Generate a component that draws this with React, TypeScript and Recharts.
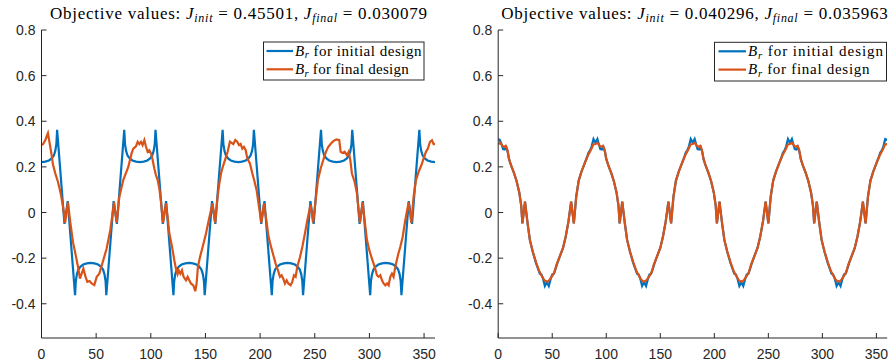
import React from 'react';
import { LineChart, Line, XAxis, YAxis } from 'recharts';

// Br over rotor angle (deg), initial vs final design, two optimisation runs

type Pt = [number, number];

const xTicks = [0, 50, 100, 150, 200, 250, 300, 350];
const yTicks = [-0.4, -0.2, 0, 0.2, 0.4, 0.6, 0.8];
const xDomain: [number, number] = [0, 360];
const yDomain: [number, number] = [-0.55, 0.8];

const leftObjective = { init: '0.45501', final: '0.030079' };
const rightObjective = { init: '0.040296', final: '0.035963' };
const legendLabels = [' for initial design', ' for final design'];

const leftInitial: Pt[] = [
  [0, 0.221], [3.5, 0.223], [6.8, 0.228], [9.3, 0.237], [11.3, 0.25], [12.6, 0.27], [13.6, 0.3], [14.3, 0.362],
  [21, -0.05], [24, 0.05],
  [30.7, -0.362], [31.4, -0.3], [32.4, -0.27], [33.7, -0.25], [35.7, -0.237], [38.2, -0.228], [41.5, -0.223], [45, -0.221],
  [48.5, -0.223], [51.8, -0.228], [54.3, -0.237], [56.3, -0.25], [57.6, -0.27], [58.6, -0.3], [59.3, -0.362],
  [66, 0.05], [69, -0.05],
  [75.7, 0.362], [76.4, 0.3], [77.4, 0.27], [78.7, 0.25], [80.7, 0.237], [83.2, 0.228], [86.5, 0.223], [90, 0.221],
  [93.5, 0.223], [96.8, 0.228], [99.3, 0.237], [101.3, 0.25], [102.6, 0.27], [103.6, 0.3], [104.3, 0.362],
  [111, -0.05], [114, 0.05],
  [120.7, -0.362], [121.4, -0.3], [122.4, -0.27], [123.7, -0.25], [125.7, -0.237], [128.2, -0.228], [131.5, -0.223], [135, -0.221],
  [138.5, -0.223], [141.8, -0.228], [144.3, -0.237], [146.3, -0.25], [147.6, -0.27], [148.6, -0.3], [149.3, -0.362],
  [156, 0.05], [159, -0.05],
  [165.7, 0.362], [166.4, 0.3], [167.4, 0.27], [168.7, 0.25], [170.7, 0.237], [173.2, 0.228], [176.5, 0.223], [180, 0.221],
  [183.5, 0.223], [186.8, 0.228], [189.3, 0.237], [191.3, 0.25], [192.6, 0.27], [193.6, 0.3], [194.3, 0.362],
  [201, -0.05], [204, 0.05],
  [210.7, -0.362], [211.4, -0.3], [212.4, -0.27], [213.7, -0.25], [215.7, -0.237], [218.2, -0.228], [221.5, -0.223], [225, -0.221],
  [228.5, -0.223], [231.8, -0.228], [234.3, -0.237], [236.3, -0.25], [237.6, -0.27], [238.6, -0.3], [239.3, -0.362],
  [246, 0.05], [249, -0.05],
  [255.7, 0.362], [256.4, 0.3], [257.4, 0.27], [258.7, 0.25], [260.7, 0.237], [263.2, 0.228], [266.5, 0.223], [270, 0.221],
  [273.5, 0.223], [276.8, 0.228], [279.3, 0.237], [281.3, 0.25], [282.6, 0.27], [283.6, 0.3], [284.3, 0.362],
  [291, -0.05], [294, 0.05],
  [300.7, -0.362], [301.4, -0.3], [302.4, -0.27], [303.7, -0.25], [305.7, -0.237], [308.2, -0.228], [311.5, -0.223], [315, -0.221],
  [318.5, -0.223], [321.8, -0.228], [324.3, -0.237], [326.3, -0.25], [327.6, -0.27], [328.6, -0.3], [329.3, -0.362],
  [336, 0.05], [339, -0.05],
  [345.7, 0.362], [346.4, 0.3], [347.4, 0.27], [348.7, 0.25], [350.7, 0.237], [353.2, 0.228], [356.5, 0.223], [360, 0.221],
];

const leftFinal: Pt[] = [
  [0, 0.295], [1.5, 0.3], [3.5, 0.318], [5.9, 0.348], [7.6, 0.3], [9, 0.26], [10.5, 0.21], [12.7, 0.17], [15.1, 0.134],
  [17.5, 0.085], [19.7, 0.025], [21.6, -0.045], [24.2, 0.045], [26, -0.03], [28.8, -0.13], [31, -0.18], [33.4, -0.238],
  [35.2, -0.29], [38.3, -0.246], [40.2, -0.28], [41.9, -0.304], [44, -0.3], [45.9, -0.311], [48.3, -0.318], [50.5, -0.282],
  [52.9, -0.268], [56.5, -0.209], [59.6, -0.158], [63, -0.075], [66.4, 0.045], [68.8, -0.045], [71.2, 0.068], [74.8, 0.142],
  [79.4, 0.2], [82.4, 0.259], [84, 0.28], [86.4, 0.29], [88, 0.31], [89.5, 0.3], [91, 0.31], [92.5, 0.295], [94.1, 0.317],
  [95.6, 0.288], [97.1, 0.266], [98.6, 0.273], [100.2, 0.259], [101.7, 0.23], [103.2, 0.193], [104.7, 0.164], [106.3, 0.142],
  [107.8, 0.105], [109.3, 0.047], [111.2, -0.045], [113.9, 0.04], [115.7, -0.034], [116.9, -0.09], [119.4, -0.15],
  [121.5, -0.209], [123, -0.246], [124.5, -0.27], [125.5, -0.253], [127, -0.268], [128.5, -0.253], [130, -0.282],
  [132.2, -0.297], [133.7, -0.282], [135.2, -0.297], [136.7, -0.311], [138.9, -0.319], [140.7, -0.345], [141.9, -0.311],
  [143.1, -0.238], [145, -0.195], [147.4, -0.151], [150.5, -0.092], [153, -0.034], [156.4, 0.04], [158.9, -0.045],
  [161.1, 0.069], [162.7, 0.127], [164.2, 0.171], [166.3, 0.207], [168.8, 0.244], [170.3, 0.266], [172.4, 0.311],
  [175.5, 0.3], [177.3, 0.318], [179.1, 0.31], [180.7, 0.295], [182.2, 0.3], [183.7, 0.28], [185.2, 0.288], [186.8, 0.273],
  [188.3, 0.237], [190.7, 0.215], [192.9, 0.171], [195, 0.134], [196.8, 0.098], [199, 0.025], [201.1, -0.045],
  [203.5, 0.04], [205.7, -0.034], [207.5, -0.1], [209.6, -0.143], [212.1, -0.187], [214.2, -0.224], [216.3, -0.253],
  [218.2, -0.282], [219.7, -0.275], [221.2, -0.29], [222.7, -0.311], [224.3, -0.297], [225.8, -0.311], [227.9, -0.319],
  [229.4, -0.304], [231, -0.275], [232.5, -0.282], [234, -0.238], [236.5, -0.195], [238.6, -0.151], [240.7, -0.1],
  [243.2, -0.034], [246.2, 0.035], [248.5, -0.045], [250.8, 0.054], [252.9, 0.142], [255.4, 0.193], [257.8, 0.23],
  [260.2, 0.266], [262.4, 0.288], [264.5, 0.3], [266.3, 0.31], [268.2, 0.317], [270.3, 0.32], [272.4, 0.317],
  [273.7, 0.266], [275.5, 0.261], [277.3, 0.266], [279.5, 0.251], [281, 0.266], [282.5, 0.23], [284, 0.171],
  [286.5, 0.134], [288.6, 0.083], [290.1, 0.01], [291.4, -0.045], [293.8, 0.045], [295.6, -0.034], [297.8, -0.122],
  [299.9, -0.165], [302.3, -0.202], [304.8, -0.238], [306.9, -0.275], [308.4, -0.282], [310, -0.275], [311.5, -0.297],
  [313, -0.311], [314.5, -0.319], [316.1, -0.311], [317.6, -0.319], [319.1, -0.282], [320.6, -0.268], [322.1, -0.282],
  [323.7, -0.238], [326.1, -0.187], [328.2, -0.151], [330.4, -0.107], [332.8, -0.034], [335.9, 0.045], [338.3, -0.045],
  [340.4, 0.069], [342.6, 0.142], [345, 0.178], [347.5, 0.207], [349.6, 0.237], [351.7, 0.266], [353.5, 0.28],
  [355.4, 0.31], [357.2, 0.317], [358.7, 0.3], [360, 0.3],
];

const rightInitial: Pt[] = [
  [0, 0.322], [1.5, 0.318], [3.2, 0.298], [4.5, 0.278], [6, 0.276], [7.5, 0.286], [9, 0.262], [10, 0.235], [12, 0.205],
  [14.5, 0.175], [17, 0.138], [19.5, 0.088], [21.3, 0.03], [22.4, -0.048], [24.8, 0.048], [27.2, -0.048], [29.3, -0.12],
  [32, -0.172], [35, -0.222], [37, -0.248], [38.5, -0.268], [40, -0.272], [41.5, -0.29], [43.2, -0.322], [45, -0.306],
  [46.8, -0.322], [48.5, -0.292], [50, -0.272], [51.5, -0.268], [53, -0.248], [55, -0.218], [57, -0.192], [60, -0.155],
  [62.5, -0.105], [65, -0.04], [67.5, 0.048], [70, -0.048], [72.2, 0.07], [74.5, 0.14], [77, 0.178], [80, 0.215],
  [82, 0.24], [83.5, 0.262], [85, 0.272], [86.5, 0.29], [88.2, 0.322],
  [90, 0.306], [91.8, 0.322], [93.2, 0.298], [94.5, 0.278], [96, 0.276], [97.5, 0.286], [99, 0.262], [100, 0.235],
  [102, 0.205], [104.5, 0.175], [107, 0.138], [109.5, 0.088], [111.3, 0.03], [112.4, -0.048], [114.8, 0.048],
  [117.2, -0.048], [119.3, -0.12], [122, -0.172], [125, -0.222], [127, -0.248], [128.5, -0.268], [130, -0.272],
  [131.5, -0.29], [133.2, -0.322], [135, -0.306], [136.8, -0.322], [138.5, -0.292], [140, -0.272], [141.5, -0.268],
  [143, -0.248], [145, -0.218], [147, -0.192], [150, -0.155], [152.5, -0.105], [155, -0.04], [157.5, 0.048],
  [160, -0.048], [162.2, 0.07], [164.5, 0.14], [167, 0.178], [170, 0.215], [172, 0.24], [173.5, 0.262], [175, 0.272],
  [176.5, 0.29], [178.2, 0.322],
  [180, 0.306], [181.8, 0.322], [183.2, 0.298], [184.5, 0.278], [186, 0.276], [187.5, 0.286], [189, 0.262], [190, 0.235],
  [192, 0.205], [194.5, 0.175], [197, 0.138], [199.5, 0.088], [201.3, 0.03], [202.4, -0.048], [204.8, 0.048],
  [207.2, -0.048], [209.3, -0.12], [212, -0.172], [215, -0.222], [217, -0.248], [218.5, -0.268], [220, -0.272],
  [221.5, -0.29], [223.2, -0.322], [225, -0.306], [226.8, -0.322], [228.5, -0.292], [230, -0.272], [231.5, -0.268],
  [233, -0.248], [235, -0.218], [237, -0.192], [240, -0.155], [242.5, -0.105], [245, -0.04], [247.5, 0.048],
  [250, -0.048], [252.2, 0.07], [254.5, 0.14], [257, 0.178], [260, 0.215], [262, 0.24], [263.5, 0.262], [265, 0.272],
  [266.5, 0.29], [268.2, 0.322],
  [270, 0.306], [271.8, 0.322], [273.2, 0.298], [274.5, 0.278], [276, 0.276], [277.5, 0.286], [279, 0.262], [280, 0.235],
  [282, 0.205], [284.5, 0.175], [287, 0.138], [289.5, 0.088], [291.3, 0.03], [292.4, -0.048], [294.8, 0.048],
  [297.2, -0.048], [299.3, -0.12], [302, -0.172], [305, -0.222], [307, -0.248], [308.5, -0.268], [310, -0.272],
  [311.5, -0.29], [313.2, -0.322], [315, -0.306], [316.8, -0.322], [318.5, -0.292], [320, -0.272], [321.5, -0.268],
  [323, -0.248], [325, -0.218], [327, -0.192], [330, -0.155], [332.5, -0.105], [335, -0.04], [337.5, 0.048],
  [340, -0.048], [342.2, 0.07], [344.5, 0.14], [347, 0.178], [350, 0.215], [352, 0.24], [353.5, 0.262], [355, 0.272],
  [356.5, 0.29], [358.2, 0.322], [360, 0.318],
];

const rightFinal: Pt[] = [
  [0, 0.3], [2, 0.305], [4, 0.292], [5.5, 0.288], [7, 0.292], [8.5, 0.275], [10, 0.235], [12, 0.205], [14.5, 0.175],
  [17, 0.138], [19.5, 0.088], [21.3, 0.03], [22.4, -0.048], [24.8, 0.048], [27.2, -0.048], [29.3, -0.12], [32, -0.172],
  [35, -0.218], [38, -0.258], [40, -0.275], [42, -0.292], [44, -0.302], [46, -0.302], [48, -0.292], [50, -0.278],
  [52, -0.262], [54, -0.228], [57, -0.192], [60, -0.155], [62.5, -0.105], [65, -0.04], [67.5, 0.048], [70, -0.048],
  [72.2, 0.07], [74.5, 0.14], [77, 0.178], [80, 0.215], [83, 0.25], [85, 0.268], [86.5, 0.282], [88, 0.298],
  [90, 0.3], [92, 0.305], [94, 0.292], [95.5, 0.288], [97, 0.292], [98.5, 0.275], [100, 0.235], [102, 0.205],
  [104.5, 0.175], [107, 0.138], [109.5, 0.088], [111.3, 0.03], [112.4, -0.048], [114.8, 0.048], [117.2, -0.048],
  [119.3, -0.12], [122, -0.172], [125, -0.218], [128, -0.258], [130, -0.275], [132, -0.292], [134, -0.302],
  [136, -0.302], [138, -0.292], [140, -0.278], [142, -0.262], [144, -0.228], [147, -0.192], [150, -0.155],
  [152.5, -0.105], [155, -0.04], [157.5, 0.048], [160, -0.048], [162.2, 0.07], [164.5, 0.14], [167, 0.178],
  [170, 0.215], [173, 0.25], [175, 0.268], [176.5, 0.282], [178, 0.298],
  [180, 0.3], [182, 0.305], [184, 0.292], [185.5, 0.288], [187, 0.292], [188.5, 0.275], [190, 0.235], [192, 0.205],
  [194.5, 0.175], [197, 0.138], [199.5, 0.088], [201.3, 0.03], [202.4, -0.048], [204.8, 0.048], [207.2, -0.048],
  [209.3, -0.12], [212, -0.172], [215, -0.218], [218, -0.258], [220, -0.275], [222, -0.292], [224, -0.302],
  [226, -0.302], [228, -0.292], [230, -0.278], [232, -0.262], [234, -0.228], [237, -0.192], [240, -0.155],
  [242.5, -0.105], [245, -0.04], [247.5, 0.048], [250, -0.048], [252.2, 0.07], [254.5, 0.14], [257, 0.178],
  [260, 0.215], [263, 0.25], [265, 0.268], [266.5, 0.282], [268, 0.298],
  [270, 0.3], [272, 0.305], [274, 0.292], [275.5, 0.288], [277, 0.292], [278.5, 0.275], [280, 0.235], [282, 0.205],
  [284.5, 0.175], [287, 0.138], [289.5, 0.088], [291.3, 0.03], [292.4, -0.048], [294.8, 0.048], [297.2, -0.048],
  [299.3, -0.12], [302, -0.172], [305, -0.218], [308, -0.258], [310, -0.275], [312, -0.292], [314, -0.302],
  [316, -0.302], [318, -0.292], [320, -0.278], [322, -0.262], [324, -0.228], [327, -0.192], [330, -0.155],
  [332.5, -0.105], [335, -0.04], [337.5, 0.048], [340, -0.048], [342.2, 0.07], [344.5, 0.14], [347, 0.178],
  [350, 0.215], [353, 0.25], [355, 0.268], [356.5, 0.282], [358, 0.298], [360, 0.3],
];

const BLUE = '#0072BD';
const ORANGE = '#D95319';
const AXIS = '#262626';
const SANS = 'Liberation Sans, Arimo, Helvetica, Arial, sans-serif';
const SERIF = 'Liberation Serif, Tinos, serif';

const toRows = (pts: Pt[]) => pts.map(([x, y]) => ({ x, y }));

// ─── Ticks (MATLAB style: inward marks on all four sides) ────────────────────

function BottomTick({ x, y, payload }: any) {
  return (
    <g>
      <line x1={x} x2={x} y1={y} y2={y - 5} stroke={AXIS} strokeWidth={1} />
      <text x={x} y={y + 20.5} textAnchor="middle" style={{ fontFamily: SANS, fontSize: 14 }} fill={AXIS}>
        {payload.value}
      </text>
    </g>
  );
}

function TopTick({ x, y }: any) {
  return <line x1={x} x2={x} y1={y} y2={y + 5} stroke={AXIS} strokeWidth={1} />;
}

function LeftTick({ x, y, payload }: any) {
  return (
    <g>
      <line x1={x} x2={x + 5} y1={y} y2={y} stroke={AXIS} strokeWidth={1} />
      <text x={x - 6} y={y + 5} textAnchor="end" style={{ fontFamily: SANS, fontSize: 14 }} fill={AXIS}>
        {payload.value}
      </text>
    </g>
  );
}

function RightTick({ x, y }: any) {
  return <line x1={x} x2={x - 5} y1={y} y2={y} stroke={AXIS} strokeWidth={1} />;
}

// ─── One subplot ─────────────────────────────────────────────────────────────

type PanelProps = {
  offsetX: number;
  yAxisWidth: number;
  marginRight: number;
  initial: Pt[];
  final: Pt[];
  objective: { init: string; final: string };
  title: { cx: number; width: number };
  legend: { x: number; y: number; w: number; h: number; lineX: number; lineW: number; textW: number };
};

function Panel({ offsetX, yAxisWidth, marginRight, initial, final, objective, title, legend }: PanelProps) {
  const rowY = [legend.y + 9, legend.y + 27.3];
  const serif = { fontFamily: SERIF };
  return (
    <div style={{ position: 'absolute', left: offsetX, top: 0, width: 446, height: 364 }}>
      <LineChart width={446} height={364} margin={{ top: 30, right: marginRight, bottom: 0, left: 0 }}>
        <XAxis
          xAxisId="b"
          type="number"
          dataKey="x"
          domain={xDomain}
          ticks={xTicks}
          allowDataOverflow
          interval={0}
          height={26}
          tickSize={0}
          tickMargin={0}
          tick={<BottomTick />}
          stroke={AXIS}
        />
        <XAxis
          xAxisId="t"
          orientation="top"
          type="number"
          dataKey="x"
          domain={xDomain}
          ticks={xTicks}
          allowDataOverflow
          interval={0}
          height={0}
          tickSize={0}
          tickMargin={0}
          tick={<TopTick />}
          stroke={AXIS}
        />
        <YAxis
          yAxisId="l"
          type="number"
          domain={yDomain}
          ticks={yTicks}
          allowDataOverflow
          interval={0}
          width={yAxisWidth}
          tickSize={0}
          tickMargin={0}
          tick={<LeftTick />}
          stroke={AXIS}
        />
        <YAxis
          yAxisId="r"
          orientation="right"
          type="number"
          domain={yDomain}
          ticks={yTicks}
          allowDataOverflow
          interval={0}
          width={0}
          tickSize={0}
          tickMargin={0}
          tick={<RightTick />}
          stroke={AXIS}
        />
        <Line
          xAxisId="b"
          yAxisId="l"
          data={toRows(initial)}
          dataKey="y"
          type="linear"
          stroke={BLUE}
          strokeWidth={2.2}
          dot={false}
          isAnimationActive={false}
        />
        <Line
          xAxisId="b"
          yAxisId="l"
          data={toRows(final)}
          dataKey="y"
          type="linear"
          stroke={ORANGE}
          strokeWidth={2.2}
          dot={false}
          isAnimationActive={false}
        />
      </LineChart>

      <svg width={446} height={364} style={{ position: 'absolute', left: 0, top: 0, pointerEvents: 'none' }}>
        <text
          x={title.cx}
          y={18.5}
          textAnchor="middle"
          style={{ ...serif, fontSize: 17 }}
          fill="#000"
          textLength={title.width}
          lengthAdjust="spacing"
        >
          Objective values:{' '}
          <tspan fontStyle="italic">J</tspan>
          <tspan fontStyle="italic" fontSize={12} dy={3}>init</tspan>
          <tspan dy={-3}>{` = ${objective.init}, `}</tspan>
          <tspan fontStyle="italic">J</tspan>
          <tspan fontStyle="italic" fontSize={12} dy={3}>final</tspan>
          <tspan dy={-3}>{` = ${objective.final}`}</tspan>
        </text>

        <rect x={legend.x} y={legend.y} width={legend.w} height={legend.h} fill="#fff" stroke={AXIS} strokeWidth={1} />
        {[BLUE, ORANGE].map((c, i) => (
          <g key={c}>
            <line x1={legend.lineX} x2={legend.lineX + legend.lineW} y1={rowY[i]} y2={rowY[i]} stroke={c} strokeWidth={2.2} />
            <text
              x={legend.lineX + legend.lineW + 2}
              y={rowY[i] + 4.8}
              style={{ ...serif, fontSize: 15 }}
              fill="#000"
              textLength={i === 0 ? legend.textW : legend.textW * 0.9}
              lengthAdjust="spacing"
            >
              <tspan fontStyle="italic">B</tspan>
              <tspan fontStyle="italic" fontSize={10.5} dy={2.5}>r</tspan>
              <tspan dy={-2.5}>{legendLabels[i]}</tspan>
            </text>
          </g>
        ))}
      </svg>
    </div>
  );
}

export default function App() {
  return (
    <div style={{ position: 'absolute', left: 0, top: 0, width: 892, height: 364, background: '#fff', overflow: 'hidden' }}>
      <Panel
        offsetX={0}
        yAxisWidth={41.5}
        marginRight={11}
        initial={leftInitial}
        final={leftFinal}
        objective={leftObjective}
        title={{ cx: 238.5, width: 377 }}
        legend={{ x: 263.5, y: 42, w: 160.5, h: 38, lineX: 266.5, lineW: 26.5, textW: 126.5 }}
      />
      <Panel
        offsetX={446}
        yAxisWidth={52.2}
        marginRight={4.8}
        initial={rightInitial}
        final={rightFinal}
        objective={rightObjective}
        title={{ cx: 248.4, width: 386.5 }}
        legend={{ x: 268.5, y: 42.3, w: 172, h: 38.7, lineX: 272.5, lineW: 27.5, textW: 135 }}
      />
    </div>
  );
}
